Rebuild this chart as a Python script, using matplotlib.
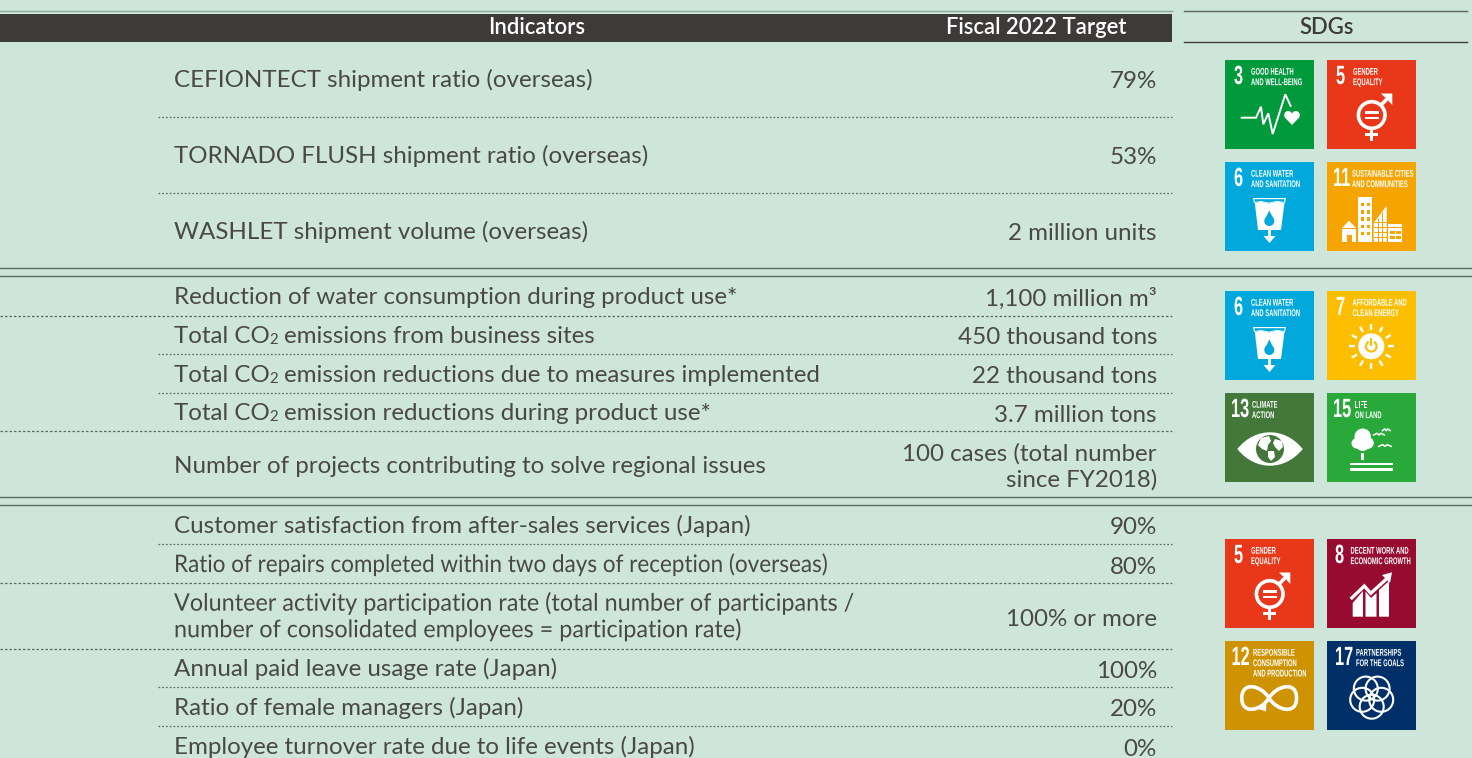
import numpy as np
import matplotlib
matplotlib.use("Agg")
import matplotlib.pyplot as plt
import matplotlib.patheffects as pe
from matplotlib.patches import Rectangle, Circle, Polygon, PathPatch, Wedge
from matplotlib.path import Path
from matplotlib.transforms import Affine2D

# ---- table content
bg = "#cde6d9"
dark = "#3e3a39"
text_col = "#4a4846"
rule_col = "#5c6a63"

header_left = "Indicators"
header_right = "Fiscal 2022 Target"
header_sdg = "SDGs"

row_labels = [
    "CEFIONTECT shipment ratio (overseas)",
    "TORNADO FLUSH shipment ratio (overseas)",
    "WASHLET shipment volume (overseas)",
    "Reduction of water consumption during product use*",
    "Total CO|2|emissions from business sites",
    "Total CO|2|emission reductions due to measures implemented",
    "Total CO|2|emission reductions during product use*",
    "Number of projects contributing to solve regional issues",
    "Customer satisfaction from after-sales services (Japan)",
    "Ratio of repairs completed within two days of reception (overseas)",
    "Volunteer activity participation rate (total number of participants /\nnumber of consolidated employees = participation rate)",
    "Annual paid leave usage rate (Japan)",
    "Ratio of female managers (Japan)",
    "Employee turnover rate due to life events (Japan)",
]
row_targets = [
    "79%", "53%", "2 million units",
    "1,100 million m\u00b3", "450 thousand tons", "22 thousand tons", "3.7 million tons",
    "100 cases (total number\nsince FY2018)",
    "90%", "80%", "100% or more", "100%", "20%", "0%",
]
label_base = [87, 163, 239, 304.3, 343, 381.7, 420, 472.7, 533, 572, 610.7, 675.7, 715, 754.3]
target_base = [88.5, 164.5, 240.5, 306, 344.5, 383, 421.5, 460.5, 534.5, 573.5, 625.5, 677.5, 716.5, 755.5]
label_squeeze = {9: 0.93, 10: 0.968}
line_gap = 26.5

dotted_from_0 = [316, 431, 583, 649]
dotted_from_158 = [117, 193, 354, 393, 544, 687, 726]
double_rules = [268.3, 275.7, 497.3, 505]

# sdg tiles: goal, colour, title lines
goal_colors = {3: "#009a3d", 5: "#e93819", 6: "#00a8dc", 11: "#f6a400", 7: "#fdbe00",
               13: "#43783a", 15: "#2aa93b", 8: "#970b31", 12: "#cf9200", 17: "#013068"}
goal_titles = {3: ["GOOD HEALTH", "AND WELL-BEING"], 5: ["GENDER", "EQUALITY"],
               6: ["CLEAN WATER", "AND SANITATION"], 11: ["SUSTAINABLE CITIES", "AND COMMUNITIES"],
               7: ["AFFORDABLE AND", "CLEAN ENERGY"], 13: ["CLIMATE", "ACTION"],
               15: ["LIFE", "ON LAND"], 8: ["DECENT WORK AND", "ECONOMIC GROWTH"],
               12: ["RESPONSIBLE", "CONSUMPTION", "AND PRODUCTION"], 17: ["PARTNERSHIPS", "FOR THE GOALS"]}
tile_layout = [(3, 1225, 60), (5, 1327, 60), (6, 1225, 162), (11, 1327, 162),
               (6, 1225, 291), (7, 1327, 291), (13, 1225, 393), (15, 1327, 393),
               (5, 1225, 539), (8, 1327, 539), (12, 1225, 641), (17, 1327, 641)]
title_x = {3: 26, 5: 26, 6: 26, 11: 25, 7: 25.5, 13: 27, 15: 28, 8: 23.5, 12: 28, 17: 29}
number_x = {3: 9, 5: 9, 6: 9, 11: 6, 7: 9, 13: 6, 15: 6, 8: 8, 12: 6.5, 17: 8}

plt.rcParams["font.family"] = ["Lato", "DejaVu Sans"]
fig = plt.figure(figsize=(14.72, 7.58), dpi=100, facecolor=bg)
ax = fig.add_axes([0, 0, 1, 1])
ax.set_xlim(0, 1472)
ax.set_ylim(758, 0)
ax.axis("off")
renderer = fig.canvas.get_renderer()


class Squeeze(pe.AbstractPathEffect):
    # narrows the glyphs sideways, the SDG logos use a very condensed face
    def __init__(self, sx):
        super().__init__()
        self.sx = sx

    def draw_path(self, renderer, gc, tpath, affine, rgbFace=None):
        renderer.draw_path(gc, tpath, Affine2D().scale(self.sx, 1) + affine, rgbFace)


def body_text(x, base, s, ha="left", size=17.4, sx=None):
    effects = [Squeeze(sx)] if sx else None
    for n, one_line in enumerate(s.split("\n")):
        y = base + n * line_gap
        # pieces between | are small subscripts
        parts = one_line.split("|")
        if len(parts) == 1:
            ax.text(x, y, one_line, ha=ha, va="baseline", fontsize=size, color=text_col,
                    path_effects=effects)
            continue
        px = x
        for i, part in enumerate(parts):
            small = i % 2 == 1
            t = ax.text(px, y + (1 if small else 0), part, ha="left", va="baseline", color=text_col,
                        fontsize=size * 0.62 if small else size)
            px = t.get_window_extent(renderer).x1
            if small:
                px += 5.5


def draw_goal(goal, ox, oy):
    white = "white"
    col = goal_colors[goal]

    def P(pts):
        return [(ox + a, oy + b) for a, b in pts]

    def poly(pts, fc=white):
        ax.add_patch(Polygon(P(pts), closed=True, fc=fc, ec="none"))

    def line(pts, lw=1.5, c=white):
        pts = P(pts)
        ax.plot([p[0] for p in pts], [p[1] for p in pts], color=c, lw=lw,
                solid_joinstyle="miter", solid_capstyle="butt")

    def rect(x, y, w, h, fc=white):
        ax.add_patch(Rectangle((ox + x, oy + y), w, h, fc=fc, ec="none"))

    def disc(x, y, r, fc=white, ec="none", lw=0):
        ax.add_patch(Circle((ox + x, oy + y), r, fc=fc, ec=ec, lw=lw))

    if goal == 3:
        line([(15.7, 57.7), (31, 57.7), (36, 46.7), (38.3, 64.3), (43.3, 53.3),
              (47.7, 74), (60.3, 34.3), (66, 46.7)], 1.4)
        hx, hy = 67, 57
        poly([(hx, hy + 8), (hx - 7.6, hy), (hx + 7.6, hy)])
        disc(hx - 3.8, hy - 2, 4)
        disc(hx + 3.8, hy - 2, 4)
        rect(hx - 6, hy - 2, 12, 3)
    elif goal == 5:
        disc(44.7, 55, 13.3, fc="none", ec=white, lw=2.6)
        rect(37.5, 51, 14.5, 2.6)
        rect(37.5, 56.5, 14.5, 2.6)
        line([(54, 45), (64, 35)], 2.6)
        poly([(54, 33.5), (65.3, 33.5), (65.3, 45), (61.5, 41), (61.5, 37.5), (58, 37.5)])
        rect(43, 69, 3.4, 12)
        rect(38, 72.6, 13.4, 3.2)
    elif goal == 6:
        poly([(28, 36), (61, 36), (60, 41), (52, 39.6), (44, 41.5), (36, 39.8), (29, 41)], white)
        poly([(29.5, 37.2), (59.5, 37.2), (59.2, 40), (52, 38.8), (44, 40.6), (36, 39), (29.8, 40)], col)
        poly([(29.8, 41), (36, 39.8), (44, 41.5), (52, 39.6), (59.5, 41), (56, 68), (33, 68)])
        rect(42.6, 68, 3.6, 7)
        poly([(38.5, 74), (50.5, 74), (44.5, 81)])
        disc(44.3, 59, 5, fc=col)
        poly([(44.3, 48.5), (39.8, 57.5), (48.8, 57.5)], col)
    elif goal == 11:
        poly([(15, 66), (22, 58.7), (29, 66)])
        rect(15, 67, 14, 12.7)
        rect(19.5, 72.5, 5, 7.2, fc=col)
        rect(30.7, 35.3, 14, 44.4)
        for wy in np.arange(41, 74, 7.2):
            for wx in (33.5, 39.5):
                rect(wx, wy, 3, 3.4, fc=col)
        poly([(46.7, 61), (59.7, 43.7), (59.7, 79.7), (46.7, 79.7)])
        for wy in (60, 65, 70, 75):
            line([(46.7, wy), (59.7, wy)], 0.7, col)
        line([(50.8, 56), (50.8, 79.7)], 0.7, col)
        line([(55.2, 50), (55.2, 79.7)], 0.7, col)
        rect(61.3, 62, 13.7, 2.8)
        rect(61.3, 66, 13.7, 13.7)
        for wx in (63.3, 69.3):
            for wy in (68.5, 74):
                rect(wx, wy, 4.3, 3.2, fc=col)
    elif goal == 7:
        cx, cy = 44.3, 55.3
        disc(cx, cy, 13)
        for ang in np.arange(0, 360, 30):
            a = np.radians(ang)
            line([(cx + 16.5 * np.cos(a), cy + 16.5 * np.sin(a)),
                  (cx + 22.5 * np.cos(a), cy + 22.5 * np.sin(a))], 1.7)
        ax.add_patch(Wedge((ox + cx, oy + cy), 6.3, -60, 240, width=2.1, fc=col, ec="none"))
        rect(cx - 1.1, cy - 8, 2.2, 7.5, fc=col)
    elif goal == 13:
        verts = [(12.3, 56), (22, 44), (34, 39.3), (45, 39.3), (56, 39.3), (68, 44), (77.7, 56),
                 (68, 68), (56, 72.7), (45, 72.7), (34, 72.7), (22, 68), (12.3, 56)]
        codes = [Path.MOVETO] + [Path.CURVE4] * 12
        ax.add_patch(PathPatch(Path(P(verts), codes), fc=white, ec="none"))
        disc(45, 56, 14, fc=col)
        poly([(36, 45), (44, 43), (46, 48), (43, 52), (42, 58), (37, 56), (33, 52)])
        poly([(43, 58), (49, 58), (50, 64), (46, 68), (43, 64)])
        poly([(50, 46), (57, 48), (58, 54), (54, 58), (50, 54), (48, 50)])
    elif goal == 15:
        disc(35.7, 43.7, 8.2)
        disc(29.7, 50.3, 5.2)
        disc(41, 50, 5.8)
        disc(35.7, 51, 7)
        rect(34.2, 60, 3, 7)
        rect(23, 69.5, 43.3, 2.6)
        rect(23, 75, 43.3, 2.6)
        for bx, by, s in [(52, 41.3, 6), (59.3, 37, 4.5), (58, 52.7, 7)]:
            line([(bx - s, by + 1), (bx - s / 3, by - 1), (bx, by + 0.6),
                  (bx + s / 3, by - 1), (bx + s, by + 1)], 1.1)
    elif goal == 8:
        poly([(25.7, 64), (36, 52), (36, 77.7), (25.7, 77.7)])
        poly([(38.5, 52.5), (44, 59), (49.5, 54), (49.5, 77.7), (38.5, 77.7)])
        poly([(52, 51), (62, 42), (62, 77.7), (52, 77.7)])
        line([(23.7, 60), (37.3, 47), (43.7, 54.3), (60, 39.5)], 2.4)
        poly([(65, 33.3), (63, 44), (55, 36)])
    elif goal == 12:
        verts = [(44, 57), (52, 44), (72, 40), (71.5, 57), (72, 74), (52, 70), (44, 57),
                 (36, 44), (17, 40), (16.7, 57), (17, 74), (36, 70), (44, 57)]
        codes = [Path.MOVETO] + [Path.CURVE4] * 12
        ax.add_patch(PathPatch(Path(P(verts), codes), fc="none", ec=white, lw=2.6))
        poly([(41.5, 61), (41, 70.5), (33.5, 68)])
    elif goal == 17:
        for k in range(5):
            a = np.radians(-90 + 72 * k + 36)
            disc(44.7 + 10 * np.cos(a), 55.7 + 10 * np.sin(a), 12, fc="none", ec=white, lw=1.5)

    # number + title
    ax.text(ox + number_x[goal], oy + 17, str(goal), ha="left", va="center", color=white,
            fontsize=19, fontweight="bold", family="Liberation Sans",
            path_effects=[Squeeze(0.62)])
    for n, s in enumerate(goal_titles[goal]):
        ax.text(ox + title_x[goal], oy + 11.7 + n * 10.4, s, ha="left", va="center", color=white,
                fontsize=7, fontweight="bold", family="Liberation Sans",
                path_effects=[Squeeze(0.6)])


# header
ax.add_patch(Rectangle((0, 14), 1172, 28, fc=dark, ec="none"))
ax.plot([0, 1172], [10.7, 10.7], color="#8ba69a", lw=1)
head_style = dict(ha="center", va="baseline", fontsize=15.8, fontweight="semibold")
ax.text(537, 34.5, header_left, color="white", **head_style)
ax.text(1036, 34.5, header_right, color="white", **head_style)
ax.plot([1184, 1467], [11, 11], color="#5f6660", lw=1)
ax.plot([1184, 1467], [41.5, 41.5], color=dark, lw=1)
ax.text(1327, 34.5, header_sdg, color=dark, **head_style)

# rules
for y in double_rules:
    ax.plot([0, 1472], [y, y], color=rule_col, lw=1)
for y in dotted_from_0:
    ax.plot([0, 1172], [y, y], color=rule_col, lw=0.9, ls=(0, (2, 1.6)))
for y in dotted_from_158:
    ax.plot([158, 1172], [y, y], color=rule_col, lw=0.9, ls=(0, (1.4, 1.6)))

# rows
for i, (label, target) in enumerate(zip(row_labels, row_targets)):
    body_text(174, label_base[i], label, sx=label_squeeze.get(i))
    body_text(1157, target_base[i], target, ha="right")

# sdg tiles
for goal, ox, oy in tile_layout:
    ax.add_patch(Rectangle((ox, oy), 89, 89, fc=goal_colors[goal], ec="none"))
    draw_goal(goal, ox, oy)

fig.savefig("out.png", dpi=100, facecolor=bg)
